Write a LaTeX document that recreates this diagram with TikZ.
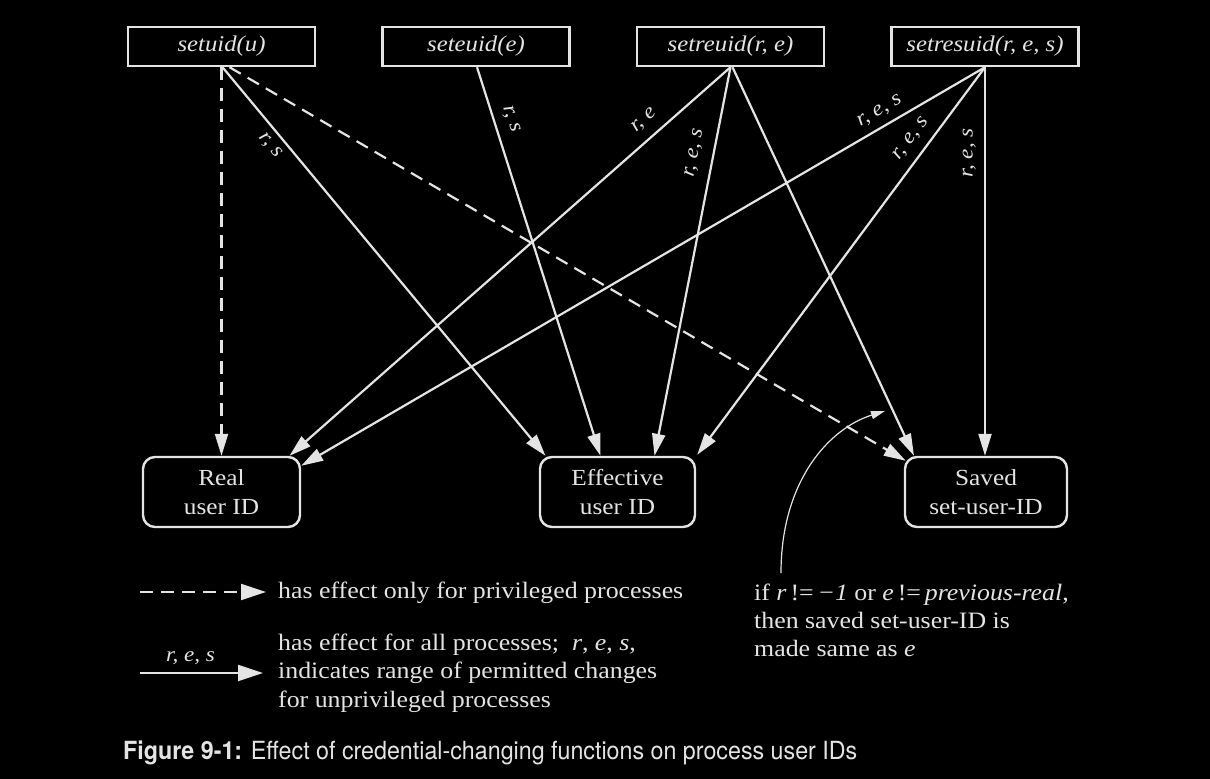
\documentclass[tikz,border=0pt]{standalone}
\usepackage{fontspec}
\setmainfont{Liberation Serif}[FakeStretch=1.1]
\newfontfamily\capfont{TeX Gyre Heros}[FakeStretch=0.93]
\usetikzlibrary{arrows.meta}
\definecolor{fg}{HTML}{E4E4E4}
\begin{document}
\begin{tikzpicture}[x=1pt,y=-1pt,
  every node/.style={text=fg},
  fnbox/.style={draw=fg, line width=2.4pt, minimum width=187pt, minimum height=39pt, inner sep=0pt, font=\fontsize{22.5}{26}\selectfont\itshape},
  idbox/.style={draw=fg, line width=2.4pt, rounded corners=12pt, minimum height=70pt, inner sep=0pt, align=center, font=\fontsize{23}{29}\selectfont},
  conn/.style={draw=fg, line width=2.2pt, -{Triangle[length=22pt,width=13pt]}},
  priv/.style={conn, dash pattern=on 13pt off 8pt},
  lbl/.style={sloped, above, font=\fontsize{21}{22}\selectfont\itshape},
  vlbl/.style={rotate=90, anchor=south, font=\fontsize{21}{22}\selectfont\itshape},
  txt/.style={anchor=base west, inner sep=0pt, font=\fontsize{23.5}{28}\selectfont},
  captext/.style={anchor=base west, inner sep=0pt, font=\capfont\fontsize{25}{28}\selectfont}
]
\fill[black] (0,0) rectangle (1210,779);
\useasboundingbox (0,0) rectangle (1210,779);

% function boxes
\node[fnbox] (setuid)    at (221.5,46.5) {setuid(u)};
\node[fnbox] (seteuid)   at (476,46.5)   {seteuid(e)};
\node[fnbox] (setreuid)  at (730.5,46.5) {setreuid(r, e)};
\node[fnbox] (setresuid) at (985,46.5)   {setresuid(r, e, s)};

% ID boxes
\node[idbox, minimum width=157pt] (Real)  at (221.5,492) {Real\\user ID};
\node[idbox, minimum width=155pt] (Eff)   at (617.5,492) {Effective\\user ID};
\node[idbox, minimum width=162pt] (Saved) at (986,492)   {Saved\\set-user-ID};

% setuid
\draw[priv] (setuid.south) -- (Real.north);
\draw[conn] ([xshift=1pt]setuid.south) -- node[lbl, below, pos=0.18, inner sep=6pt] {r, s} ([xshift=-72pt]Eff.north);
\draw[priv] ([xshift=8pt]setuid.south) -- ([xshift=2pt,yshift=-5pt]Saved.north west);

% seteuid
\draw[conn] ([xshift=1pt]seteuid.south) -- node[lbl, pos=0.146, inner sep=9pt] {r, s} ([xshift=-17pt]Eff.north);

% setreuid
\draw[conn] (setreuid.south) -- node[lbl, pos=0.17, inner sep=9pt] {r, e} ([xshift=68pt]Real.north);
\draw[conn] (setreuid.south) -- node[lbl, pos=0.23, inner sep=11pt] {r, e, s} ([xshift=37pt]Eff.north);
\draw[conn] ([xshift=2pt]setreuid.south) -- ([xshift=-72pt]Saved.north);

% setresuid
\draw[conn] (setresuid.south) -- node[lbl, pos=0.143, inner sep=7pt] {r, e, s} ([yshift=-10pt]Real.north east);
\draw[conn] (setresuid.south) -- node[lbl, pos=0.21, inner sep=9pt] {r, e, s} ([xshift=1pt,yshift=1pt]Eff.north east);
\draw[conn] (setresuid.south) -- node[vlbl, pos=0.22, inner sep=8pt] {r, e, s} (setresuid.south |- Saved.north);

% annotation
\coordinate (cs) at (781,573);
\coordinate (ce) at (885,411);
\draw[fg, line width=1.2pt, -{Triangle[length=14pt,width=8pt]}] (cs) .. controls (781,480) and (830,428) .. (ce);
\node[txt] (a1) at (754,600) {if \textit{r}\,!=\,\textit{−1} or \textit{e}\,!=\,\textit{previous-real},};
\node[txt] (a2) at (754,628) {then saved set-user-ID is};
\node[txt] (a3) at (754,656) {made same as \textit{e}};

% legend
\coordinate (d1) at (140,592);
\coordinate (d2) at (266,592);
\draw[priv, -{Triangle[length=25pt,width=16pt]}] (d1) -- (d2);
\node[txt] (l1) at (278,598) {has effect only for privileged processes};
\coordinate (s1) at (140,673);
\coordinate (s2) at (263,673);
\draw[conn, -{Triangle[length=25pt,width=16pt]}] (s1) -- node[above, font=\fontsize{21}{22}\selectfont\itshape, inner sep=7pt, xshift=-11pt] {r, e, s} (s2);
\node[txt] (l2) at (278,650) {has effect for all processes;\ \ \textit{r}, \textit{e}, \textit{s},};
\node[txt] (l3) at (278,678) {indicates range of permitted changes};
\node[txt] (l4) at (278,707) {for unprivileged processes};

% caption
\node[captext] (caption) at (123,759) {\textbf{Figure 9-1:} Effect of credential-changing functions on process user IDs};
\end{tikzpicture}
\end{document}
